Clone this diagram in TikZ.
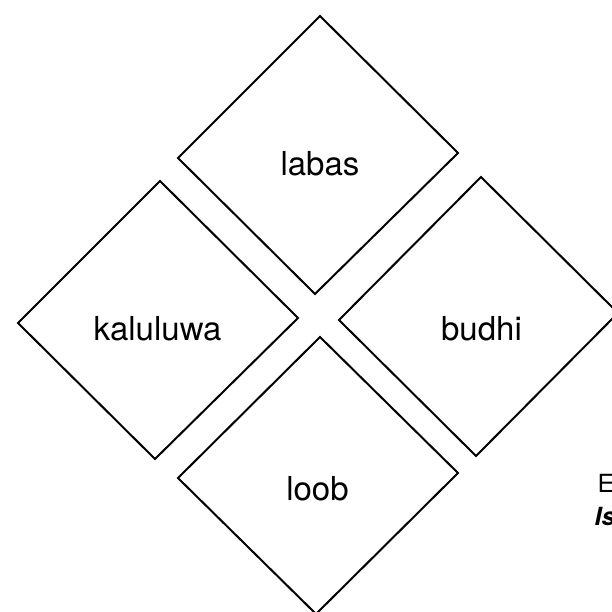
\documentclass[tikz,border=0pt]{standalone}
\usepackage{fontspec}
\setmainfont{TeX Gyre Heros}
\begin{document}
\begin{tikzpicture}[x=1pt,y=-1pt,
  dia/.style={draw=black,line width=2pt,line join=miter},
  lbl/.style={font=\fontsize{33}{38}\selectfont,inner sep=0pt},
  side/.style={font=\fontsize{25}{30}\selectfont,inner sep=0pt,anchor=base west}]
\useasboundingbox (0,0) rectangle (612,612);
\clip (0,0) rectangle (612,612);
% diamonds
\draw[dia] (320,16) -- (458,153) -- (315,294) -- (178,158) -- cycle;
\draw[dia] (160,181) -- (298,318) -- (155,459) -- (18,323) -- cycle;
\draw[dia] (481,177) -- (618,313) -- (476,456) -- (339,320) -- cycle;
\draw[dia] (320,337) -- (458,473) -- (316,614) -- (178,478) -- cycle;
% labels
\node[lbl] (labas) at (320,163.5) {labas};
\node[lbl] (kaluluwa) at (157.5,328.5) {kaluluwa};
\node[lbl] (budhi) at (481.5,328.5) {budhi};
\node[lbl] (loob) at (317.5,488.5) {loob};
% side text, cut off by the right edge as in the reference
\node[side] (e) at (597.5,492) {E};
\node[side] (is) at (594.5,525) {\bfseries\itshape Is};
\end{tikzpicture}
\end{document}
